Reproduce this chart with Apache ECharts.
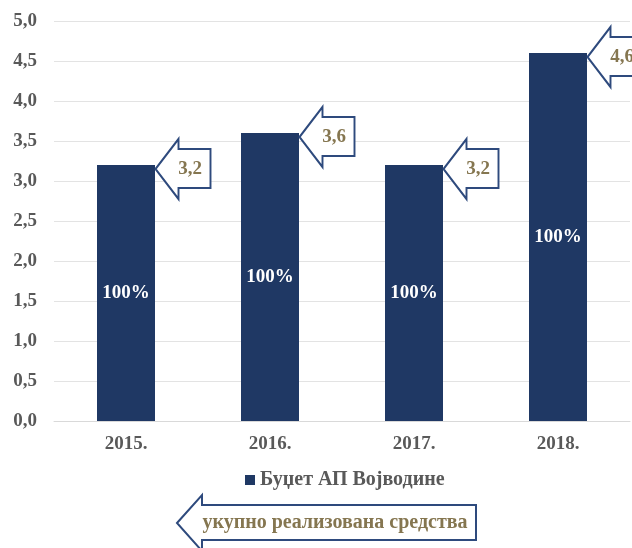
<!DOCTYPE html>
<html>
<head>
<meta charset="utf-8">
<title>Буџет АП Војводине</title>
<script src="https://cdn.jsdelivr.net/npm/echarts@6/dist/echarts.min.js"></script>
<style>
    html, body { margin: 0; padding: 0; background: #fff; }
    #bar_budget { width: 632px; height: 548px; }
</style>
</head>
<body>
<div id="bar_budget"></div>
<script>

// Chart data
// ------------------------------

var years = ['2015.', '2016.', '2017.', '2018.'];
var budgetValues = [3.2, 3.6, 3.2, 4.6];
var shareLabels = ['100%', '100%', '100%', '100%'];
var yTicks = [0, 0.5, 1, 1.5, 2, 2.5, 3, 3.5, 4, 4.5, 5];
var seriesName = 'Буџет АП Војводине';
var footerText = 'укупно реализована средства';


// Setup module
// ------------------------------

var EchartsBudgetBars = function() {

    var fontSerif = '"Liberation Serif", "Times New Roman", serif';
    var navy = '#1f3864';
    var gold = '#857650';
    var grey = '#595959';

    var fmt = function(v) {
        return v.toFixed(1).replace('.', ',');
    };

    var _budgetBarsExample = function() {
        if (typeof echarts == 'undefined') {
            console.warn('Warning - echarts.min.js is not loaded.');
            return;
        }

        var bar_element = document.getElementById('bar_budget');

        if (bar_element) {

            var bar_chart = echarts.init(bar_element);

            // Callout arrows built from the values
            var callouts = budgetValues.map(function(v, i) {
                return { coord: [i, v], value: fmt(v) };
            });

            bar_chart.setOption({

                animation: false,

                textStyle: {
                    fontFamily: fontSerif
                },

                grid: {
                    left: 54,
                    right: 2,
                    top: 21,
                    bottom: 127
                },

                legend: {
                    data: [seriesName],
                    top: 465,
                    left: 240,
                    icon: 'rect',
                    itemWidth: 10,
                    itemHeight: 10,
                    itemGap: 6,
                    textStyle: {
                        color: grey,
                        fontFamily: fontSerif,
                        fontWeight: 'bold',
                        fontSize: 20
                    }
                },

                xAxis: [{
                    type: 'category',
                    data: years,
                    axisTick: { show: false },
                    axisLine: {
                        lineStyle: { color: '#d9d9d9', width: 1 }
                    },
                    axisLabel: {
                        color: grey,
                        fontFamily: fontSerif,
                        fontWeight: 'bold',
                        fontSize: 19,
                        margin: 14
                    }
                }],

                yAxis: [{
                    type: 'value',
                    min: yTicks[0],
                    max: yTicks[yTicks.length - 1],
                    interval: yTicks[1] - yTicks[0],
                    axisLine: { show: false },
                    axisTick: { show: false },
                    axisLabel: {
                        color: grey,
                        fontFamily: fontSerif,
                        fontWeight: 'bold',
                        fontSize: 19,
                        margin: 17,
                        formatter: fmt
                    },
                    splitLine: {
                        lineStyle: { color: '#e3e3e3' }
                    }
                }],

                series: [{
                    name: seriesName,
                    type: 'bar',
                    barWidth: 58,
                    data: budgetValues,
                    itemStyle: {
                        color: navy
                    },
                    label: {
                        show: true,
                        position: 'inside',
                        color: '#fff',
                        fontFamily: fontSerif,
                        fontWeight: 'bold',
                        fontSize: 19,
                        formatter: function(p) {
                            return shareLabels[p.dataIndex];
                        }
                    },
                    markPoint: {
                        symbol: 'path://M0,30L23,0L23,10L55,10L55,49L23,49L23,60Z',
                        symbolSize: [55, 60],
                        symbolKeepAspect: false,
                        symbolOffset: [57, 4],
                        itemStyle: {
                            color: '#fff',
                            borderColor: '#2e4a7d',
                            borderWidth: 2
                        },
                        label: {
                            show: true,
                            color: gold,
                            fontFamily: fontSerif,
                            fontWeight: 'bold',
                            fontSize: 19,
                            offset: [7, 0],
                            formatter: function(p) {
                                return p.value;
                            }
                        },
                        data: callouts
                    }
                }],

                // Footer arrow with caption
                graphic: [{
                    type: 'polygon',
                    shape: {
                        points: [[177, 523], [202, 495], [202, 505], [476, 505], [476, 540], [202, 540], [202, 551]]
                    },
                    style: {
                        fill: '#fff',
                        stroke: '#2e4a7d',
                        lineWidth: 2
                    }
                }, {
                    type: 'text',
                    x: 335,
                    y: 523,
                    style: {
                        text: footerText,
                        fill: gold,
                        font: 'bold 20px ' + fontSerif,
                        align: 'center',
                        verticalAlign: 'middle'
                    }
                }]
            });
        }
    };

    return {
        init: function() {
            _budgetBarsExample();
        }
    }
}();


// Initialize module
// ------------------------------

document.addEventListener('DOMContentLoaded', function() {
    EchartsBudgetBars.init();
});
</script>
</body>
</html>
